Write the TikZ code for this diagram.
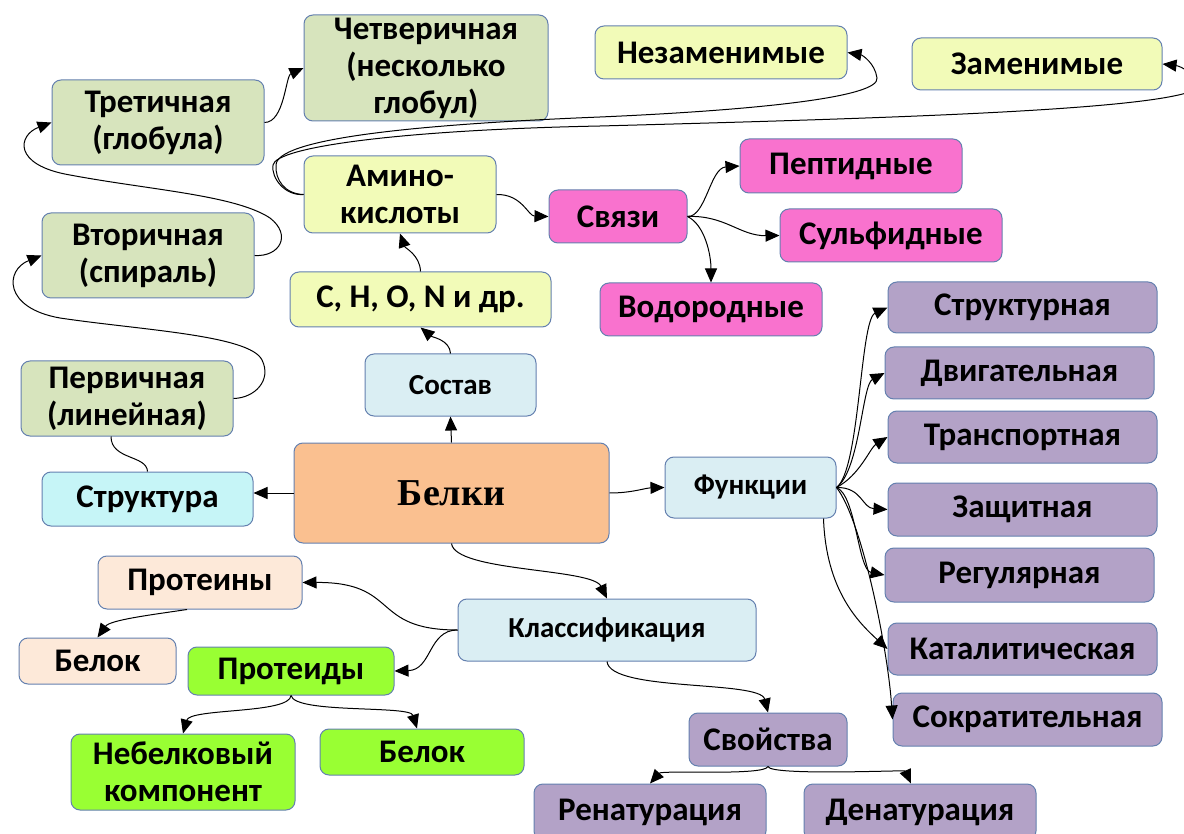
\documentclass[tikz,border=0pt]{standalone}
\usepackage{fontspec}
\setmainfont{Carlito}
\newfontfamily\serifbold{Liberation Serif}
\usetikzlibrary{arrows.meta}
\definecolor{bordc}{RGB}{100,128,175}
\definecolor{cgreen}{HTML}{D7E4BD}
\definecolor{cyellow}{HTML}{F2FBB8}
\definecolor{cpink}{HTML}{F972CE}
\definecolor{cpurple}{HTML}{B3A2C7}
\definecolor{cblue}{HTML}{DAEEF3}
\definecolor{ccyan}{HTML}{C6F5F7}
\definecolor{corange}{HTML}{FAC090}
\definecolor{cpeach}{HTML}{FDE9D9}
\definecolor{clime}{HTML}{99FF33}
\begin{document}
\begin{tikzpicture}[x=1pt,y=-1pt,
  box/.style={draw=bordc, line width=1pt, rounded corners=9pt, align=center,
    font=\fontsize{33}{37}\selectfont\bfseries, inner sep=0pt},
  sbox/.style={box, font=\fontsize{29}{34}\selectfont\bfseries},
  arr/.style={-{Triangle[length=14pt,width=12pt]}, line width=1pt},
  ln/.style={line width=1pt}]
\useasboundingbox (0,0) rectangle (1184,834);

% structure boxes
\node[box, fill=cgreen, minimum width=244, minimum height=106] (q4) at (426,68) {Четверичная\\(несколько\\глобул)};
\node[box, fill=cgreen, minimum width=212, minimum height=85] (t3) at (158,122.5) {Третичная\\(глобула)};
\node[box, fill=cgreen, minimum width=212, minimum height=85] (v2) at (148,255.5) {Вторичная\\(спираль)};
\node[box, fill=cgreen, minimum width=212, minimum height=75] (p1) at (127,398.5) {Первичная\\(линейная)};
\node[box, fill=ccyan, minimum width=211, minimum height=54] (str) at (147.5,499) {Структура};

% centre
\node[box, fill=corange, minimum width=315, minimum height=100, font=\fontsize{38}{44}\selectfont\serifbold\bfseries] (bel) at (451.5,493) {Белки};

% composition
\node[sbox, fill=cblue, minimum width=171, minimum height=62] (sos) at (450.5,385) {Состав};
\node[box, fill=cyellow, minimum width=261, minimum height=55] (chon) at (420.5,299.5) {C, H, O, N и др.};
\node[box, fill=cyellow, minimum width=192, minimum height=77] (amino) at (400,194.5) {Амино-\\кислоты};
\node[box, fill=cpink, minimum width=138, minimum height=53] (sv) at (618,216.5) {Связи};
\node[box, fill=cpink, minimum width=222, minimum height=54] (pep) at (851,166) {Пептидные};
\node[box, fill=cpink, minimum width=222, minimum height=53] (sulf) at (891,235.5) {Сульфидные};
\node[box, fill=cpink, minimum width=222, minimum height=53] (vod) at (711,309.5) {Водородные};
\node[box, fill=cyellow, minimum width=252, minimum height=53] (nez) at (721,52.5) {Незаменимые};
\node[box, fill=cyellow, minimum width=250, minimum height=52] (zam) at (1037,64) {Заменимые};

% functions
\node[sbox, fill=cblue, minimum width=171, minimum height=61] (fun) at (750.5,487.5) {Функции};
\node[box, fill=cpurple, minimum width=269, minimum height=51] (f1) at (1022.5,307.5) {Структурная};
\node[box, fill=cpurple, minimum width=269, minimum height=52] (f2) at (1019.5,373) {Двигательная};
\node[box, fill=cpurple, minimum width=269, minimum height=52] (f3) at (1022.5,437) {Транспортная};
\node[box, fill=cpurple, minimum width=269, minimum height=53] (f4) at (1022.5,509.5) {Защитная};
\node[box, fill=cpurple, minimum width=269, minimum height=54] (f5) at (1019.5,575) {Регулярная};
\node[box, fill=cpurple, minimum width=269, minimum height=52] (f6) at (1022.5,649) {Каталитическая};
\node[box, fill=cpurple, minimum width=269, minimum height=53] (f7) at (1027.5,719.5) {Сократительная};

% classification
\node[sbox, fill=cblue, minimum width=298, minimum height=62] (kl) at (607,630) {Классификация};
\node[box, fill=cpeach, minimum width=204, minimum height=53] (prot) at (200,582.5) {Протеины};
\node[box, fill=cpeach, minimum width=157, minimum height=46] (b1) at (97.5,661) {Белок};
\node[box, fill=clime, minimum width=206, minimum height=48] (prd) at (291,671) {Протеиды};
\node[box, fill=clime, minimum width=224, minimum height=76] (neb) at (183,772) {Небелковый\\компонент};
\node[box, fill=clime, minimum width=204, minimum height=46] (b2) at (422,752) {Белок};
\node[box, fill=cpurple, minimum width=158, minimum height=53] (svo) at (768,739.5) {Свойства};
\node[box, fill=cpurple, minimum width=232, minimum height=56] (ren) at (650,812) {Ренатурация};
\node[box, fill=cpurple, minimum width=232, minimum height=56] (den) at (920,812) {Денатурация};

% structure connectors
\draw[arr] (t3.east) .. controls +(20,0) and +(-18,8) .. (q4.west);
\draw[arr] (v2.east) .. controls (280,257) and (292,235) .. (270,218)
  .. controls (235,195) and (150,190) .. (70,175)
  .. controls (12,165) and (18,135) .. (t3.west);
\draw[arr] (p1.east) .. controls (255,398) and (272,380) .. (262,360)
  .. controls (250,335) and (140,330) .. (60,318)
  .. controls (3,308) and (5,270) .. (v2.west);
\draw[ln] (str.north) .. controls (147,455) and (111,460) .. ([xshift=-16pt]p1.south);
\draw[arr] (bel.west) -- (bel.west -| str.east);

% composition connectors
\draw[arr] (bel.north) -- (sos.south);
\draw[arr] (sos.north) .. controls (450,340) and (432,337) .. (chon.south);
\draw[arr] (chon.north) .. controls (420,255) and (405,248) .. (amino.south);
\draw[arr] (amino.east) .. controls (522,194) and (528,216) .. (sv.west);
\draw[arr] (sv.east) .. controls (706,217) and (710,168) .. (pep.west);
\draw[arr] (sv.east) .. controls (725,215) and (740,236) .. (sulf.west);
\draw[arr] (sv.east) .. controls (705,225) and (711,255) .. (vod.north);
\draw[arr] (amino.west) .. controls (285,194) and (275,180) .. (276,165)
  .. controls (277,140) and (400,125) .. (600,117)
  .. controls (760,110) and (880,97) .. (877,78)
  .. controls (875,63) and (862,55) .. (nez.east);
\draw[arr] (amino.west) .. controls (285,196) and (271,178) .. (273,165)
  .. controls (276,147) and (400,130) .. (600,126)
  .. controls (900,118) and (1150,110) .. (1195,90)
  .. controls (1200,75) and (1180,66) .. (zam.east);

% function connectors
\draw[arr] (bel.east) .. controls (632,493) and (645,488) .. (fun.west);
\draw[arr] (fun.east) .. controls (860,470) and (860,320) .. (f1.west);
\draw[arr] (fun.east) .. controls (860,470) and (862,385) .. (f2.west);
\draw[arr] (fun.east) .. controls (860,475) and (870,448) .. (f3.west);
\draw[arr] (fun.east) .. controls (862,487) and (862,508) .. (f4.west);
\draw[arr] (fun.east) .. controls (856,495) and (858,570) .. (f5.west);
\draw[arr] ([xshift=-13pt]fun.south east) .. controls (826,590) and (858,622) .. (f6.west);
\draw[arr] (fun.east) .. controls (862,520) and (888,650) .. (f7.west);

% classification connectors
\draw[arr] (bel.south) .. controls (455,572) and (592,568) .. (kl.north);
\draw[arr] (kl.west) .. controls (370,630) and (400,582) .. (prot.east);
\draw[arr] (kl.west) .. controls (428,630) and (432,670) .. (prd.east);
\draw[arr] ([xshift=-13pt]prot.south) .. controls (150,615) and (110,620) .. (b1.north);
\draw[arr] (prd.south) .. controls (290,714) and (190,708) .. (neb.north);
\draw[arr] (prd.south) .. controls (295,714) and (410,705) .. ([xshift=-5pt]b2.north);
\draw[arr] (kl.south) .. controls (610,692) and (760,680) .. (svo.north);
\draw[arr] (svo.south) .. controls (765,776) and (662,770) .. (ren.north);
\draw[arr] (svo.south) .. controls (770,776) and (905,770) .. ([xshift=-9pt]den.north);
\end{tikzpicture}
\end{document}
